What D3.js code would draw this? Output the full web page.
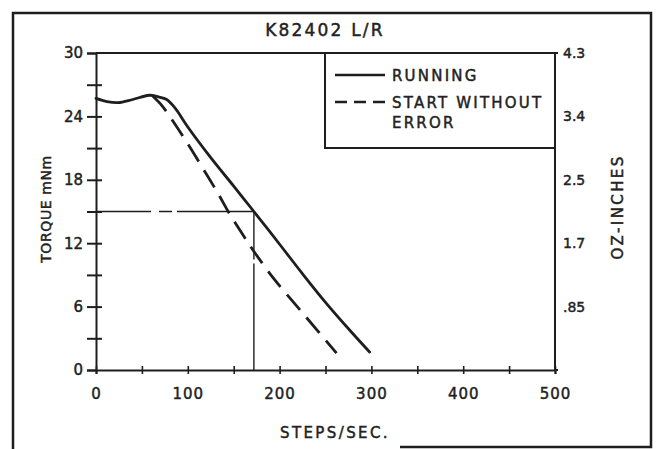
<!DOCTYPE html>
<html>
<head>
<meta charset="utf-8">
<script src="https://cdn.jsdelivr.net/npm/d3@7"></script>
<style>
  html, body { margin: 0; padding: 0; background: #fff; }
  svg { display: block; }
  text { font-family: "DejaVu Sans", sans-serif; fill: #222; stroke: #222; stroke-width: 0.45px; }
</style>
</head>
<body>
<svg id="chart" width="662" height="449"></svg>
<script>
// Motor pull-out torque curves, K82402 L/R drive
const title = "K82402 L/R";

// Running (pull-out) torque curve
const runningSteps  = [0, 12, 24, 40, 58, 68, 77, 86, 100, 125, 150, 172, 200, 225, 250, 275, 298];
const runningTorque = [25.7, 25.4, 25.3, 25.6, 26.0, 25.85, 25.6, 24.8, 23.0, 20.1, 17.4, 15.0, 11.9, 9.1, 6.4, 3.9, 1.7];

// Start-without-error (pull-in) torque curve
const startSteps  = [62, 72, 85, 100, 117, 133, 144, 160, 173, 195, 226, 262];
const startTorque = [25.9, 25.0, 23.4, 21.4, 19.0, 16.7, 15.0, 12.8, 11.1, 8.5, 5.3, 1.6];

// Axis ticks
const xTicks      = [0, 50, 100, 150, 200, 250, 300, 350, 400, 450, 500];
const xTickLabels = [0, 100, 200, 300, 400, 500];
const yTicks      = [0, 3, 6, 9, 12, 15, 18, 21, 24, 27, 30];
const yTickLabels = [0, 6, 12, 18, 24, 30];
const ozPositions = [30, 24, 18, 12, 6];
const ozLabels    = ["4.3", "3.4", "2.5", "1.7", ".85"];

// Operating point marked with reference lines
const refSteps = 172;
const refTorque = 15;

const legendItems = [
  { lines: ["RUNNING"], dashed: false },
  { lines: ["START WITHOUT", "ERROR"], dashed: true }
];

const svg = d3.select("#chart");
const ink = "#1e1e1e";

const x = d3.scaleLinear().domain([0, 500]).range([96, 555]);
const y = d3.scaleLinear().domain([0, 30]).range([370, 53]);

// Outer frame (bottom edge runs off the page on the left)
svg.append("path")
  .attr("d", "M13,449 L13,13 L651,13 L651,447 L400,447")
  .attr("fill", "none").attr("stroke", ink).attr("stroke-width", 2.5);

// Title
svg.append("text")
  .attr("x", 325).attr("y", 36)
  .attr("text-anchor", "middle")
  .attr("font-size", 17).attr("letter-spacing", 2.2)
  .text(title);

// Plot frame: top and right edges
svg.append("path")
  .attr("d", `M${x(0)},${y(30)} L${x(500)},${y(30)} L${x(500)},${y(0)}`)
  .attr("fill", "none").attr("stroke", ink).attr("stroke-width", 2);
// small outer ticks at right corners
svg.append("line").attr("x1", x(500)).attr("x2", x(500) + 3).attr("y1", y(30)).attr("y2", y(30))
  .attr("stroke", ink).attr("stroke-width", 2);
svg.append("line").attr("x1", x(500)).attr("x2", x(500) + 3).attr("y1", y(0)).attr("y2", y(0))
  .attr("stroke", ink).attr("stroke-width", 2);

// Left axis
const yAxis = d3.axisLeft(y)
  .tickValues(yTicks)
  .tickSize(9)
  .tickPadding(4)
  .tickFormat(d => yTickLabels.includes(d) ? d : "");
const gy = svg.append("g").attr("transform", `translate(${x(0)},0)`).call(yAxis);
gy.select(".domain").attr("stroke", ink).attr("stroke-width", 2);
gy.selectAll(".tick line").attr("stroke", ink).attr("stroke-width", 2);
gy.selectAll(".tick").filter(d => d !== 30 && d !== 0)
  .append("line").attr("x1", 0).attr("x2", 6).attr("stroke", ink).attr("stroke-width", 2);
gy.selectAll(".tick text").attr("font-size", 15).attr("fill", "#222").attr("font-family", "DejaVu Sans, sans-serif");

// Bottom axis
const xAxis = d3.axisBottom(x)
  .tickValues(xTicks)
  .tickSize(4)
  .tickPadding(14)
  .tickFormat(d => xTickLabels.includes(d) ? d : "");
const gx = svg.append("g").attr("transform", `translate(0,${y(0)})`).call(xAxis);
gx.select(".domain").attr("stroke", ink).attr("stroke-width", 2);
gx.selectAll(".tick line").attr("y1", -4).attr("stroke", ink).attr("stroke-width", 1.6);
gx.selectAll(".tick text").attr("font-size", 15).attr("fill", "#222").attr("font-family", "DejaVu Sans, sans-serif")
  .attr("letter-spacing", 1);

// Right-hand oz-in labels
svg.append("g").selectAll("text").data(ozPositions).join("text")
  .attr("x", 563).attr("y", d => y(d) + 5)
  .attr("font-size", 14)
  .text((d, i) => ozLabels[i]);

// Axis titles
svg.append("text")
  .attr("transform", `translate(51,209) rotate(-90)`)
  .attr("text-anchor", "middle").attr("font-size", 14).attr("letter-spacing", 0.6)
  .text("TORQUE mNm");
svg.append("text")
  .attr("transform", `translate(623,207) rotate(-90)`)
  .attr("text-anchor", "middle").attr("font-size", 15).attr("letter-spacing", 2.4)
  .text("OZ-INCHES");
svg.append("text")
  .attr("x", 335).attr("y", 438)
  .attr("text-anchor", "middle").attr("font-size", 15).attr("letter-spacing", 2.4)
  .text("STEPS/SEC.");

// Reference lines to the operating point
svg.append("line")
  .attr("x1", x(0)).attr("x2", x(refSteps))
  .attr("y1", y(refTorque)).attr("y2", y(refTorque))
  .attr("stroke", ink).attr("stroke-width", 1.6)
  .attr("stroke-dasharray", "55 8 13 5 200");
svg.append("line")
  .attr("x1", x(refSteps)).attr("x2", x(refSteps))
  .attr("y1", y(refTorque)).attr("y2", y(0))
  .attr("stroke", ink).attr("stroke-width", 1.4)
  .attr("stroke-dasharray", "48 4 200");

// Torque curves
const line = d3.line()
  .x(d => x(d[0])).y(d => y(d[1]))
  .curve(d3.curveCatmullRom.alpha(0.5));

svg.append("path")
  .datum(runningSteps.map((s, i) => [s, runningTorque[i]]))
  .attr("d", line)
  .attr("fill", "none").attr("stroke", ink).attr("stroke-width", 2.8)
  .attr("stroke-linecap", "round");

svg.append("path")
  .datum(startSteps.map((s, i) => [s, startTorque[i]]))
  .attr("d", line)
  .attr("fill", "none").attr("stroke", ink).attr("stroke-width", 2.8)
  .attr("stroke-dasharray", "20 10");

// Legend
svg.append("rect")
  .attr("x", 325).attr("y", y(30)).attr("width", x(500) - 325).attr("height", 95)
  .attr("fill", "none").attr("stroke", ink).attr("stroke-width", 2);

const lg = svg.append("g").selectAll("g").data(legendItems).join("g")
  .attr("transform", (d, i) => `translate(0,${75 + i * 27})`);
lg.append("line")
  .attr("x1", 335).attr("x2", 385).attr("y1", 0).attr("y2", 0)
  .attr("stroke", ink).attr("stroke-width", 2.6)
  .attr("stroke-dasharray", d => d.dashed ? "12 7" : null);
lg.each(function(d) {
  const t = d3.select(this).append("text")
    .attr("x", 392).attr("y", 6).attr("font-size", 15).attr("letter-spacing", 2.2);
  d.lines.forEach((s, i) => {
    t.append("tspan").attr("x", 392).attr("dy", i === 0 ? 0 : 20).text(s);
  });
});
</script>
</body>
</html>
